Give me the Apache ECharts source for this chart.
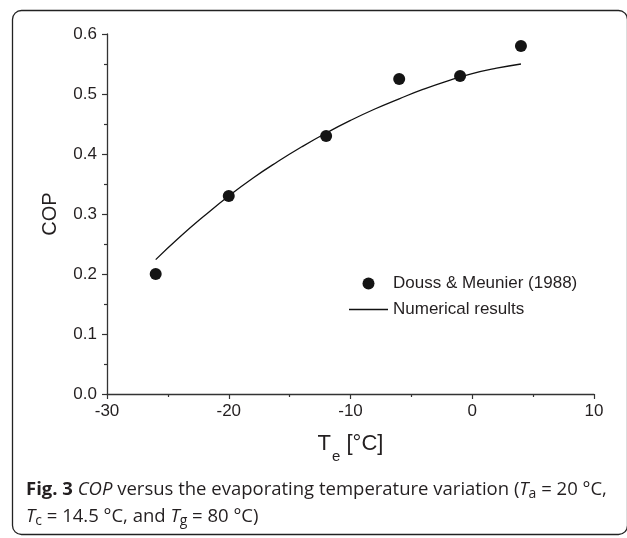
<!DOCTYPE html>
<html>
<head>
<meta charset="utf-8">
<script src="https://cdn.jsdelivr.net/npm/echarts@6/dist/echarts.min.js"></script>
<style>
html, body { margin: 0; padding: 0; background: #fff; }
#main { width: 627px; height: 538px; }
</style>
</head>
<body>
<div id="main"></div>
<script>
// 实验数据 (Douss & Meunier 1988)
var expTemp = [-26, -20, -12, -6, -1, 4];
var expCop = [0.2, 0.33, 0.43, 0.525, 0.53, 0.58];
// 数值计算结果
var numTemp = [-26, -24, -22, -20, -18, -16, -14, -12, -10, -8, -6, -4, -2, 0, 2, 4];
var numCop = [0.224, 0.262, 0.297, 0.330, 0.360, 0.387, 0.412, 0.435, 0.456, 0.475, 0.492, 0.508, 0.522, 0.534, 0.543, 0.550];
// 刻度
var xTicks = [-30, -20, -10, 0, 10];
var yTicks = [0.0, 0.1, 0.2, 0.3, 0.4, 0.5, 0.6];
var seriesNames = ['Douss & Meunier (1988)', 'Numerical results'];

var fam = '"Liberation Sans", Arial, sans-serif';
var capFont = '"Open Sans", sans-serif';
var ink = '#231f20';

var expData = [];
for (var i = 0; i < expTemp.length; i++) {
	expData.push([expTemp[i], expCop[i]]);
}
var numData = [];
for (var j = 0; j < numTemp.length; j++) {
	numData.push([numTemp[j], numCop[j]]);
}

var chart = echarts.init(document.getElementById('main'));

function axisBase() {
	return {
		axisLine: { show: true, onZero: false, lineStyle: { color: '#333', width: 1.3 } },
		axisTick: { show: true, inside: false, length: 5, lineStyle: { color: '#333', width: 1.2 } },
		minorTick: { show: true, splitNumber: 2, length: 3, lineStyle: { color: '#333', width: 1.2 } },
		splitLine: { show: false }
	};
}

var xAxis = axisBase();
xAxis.type = 'value';
xAxis.min = xTicks[0];
xAxis.max = xTicks[xTicks.length - 1];
xAxis.interval = xTicks[1] - xTicks[0];
xAxis.name = '{t|T}{s|e}{t| [°C]}';
xAxis.nameLocation = 'middle';
xAxis.nameGap = 36;
xAxis.nameTextStyle = {
	rich: {
		t: { fontFamily: fam, fontSize: 22, color: ink, lineHeight: 22 },
		s: { fontFamily: fam, fontSize: 15, color: ink, lineHeight: 10, padding: [24, 0, 0, 1] }
	}
};
xAxis.axisLabel = { margin: 9, fontFamily: fam, fontSize: 17, color: ink };

var yAxis = axisBase();
yAxis.type = 'value';
yAxis.min = yTicks[0];
yAxis.max = yTicks[yTicks.length - 1];
yAxis.interval = 0.1;
yAxis.name = 'COP';
yAxis.nameLocation = 'middle';
yAxis.nameGap = 47;
yAxis.nameTextStyle = { fontFamily: fam, fontSize: 20, color: ink };
yAxis.axisLabel = {
	margin: 10, fontFamily: fam, fontSize: 17, color: ink,
	formatter: function(v) { return v.toFixed(1); }
};

var option = {
	backgroundColor: '#fff',
	animation: false,
	grid: { left: 107, right: 33, top: 34, bottom: 144, containLabel: false },
	legend: {
		orient: 'vertical',
		left: 349,
		top: 275,
		padding: 0,
		itemWidth: 39,
		itemHeight: 12,
		itemGap: 9,
		symbolKeepAspect: true,
		data: [
			{ name: seriesNames[0], icon: 'circle' },
			{ name: seriesNames[1], icon: 'path://M0,0 L300,0 L300,10 L0,10 Z' }
		],
		textStyle: { fontFamily: fam, fontSize: 17, color: ink }
	},
	xAxis: xAxis,
	yAxis: yAxis,
	series: [{
		name: seriesNames[0],
		type: 'scatter',
		symbol: 'circle',
		symbolSize: 12,
		itemStyle: { color: '#141414', opacity: 1 },
		z: 3,
		data: expData
	}, {
		name: seriesNames[1],
		type: 'line',
		symbol: 'none',
		smooth: true,
		lineStyle: { color: '#111', width: 1.3 },
		itemStyle: { color: '#111' },
		data: numData
	}],
	graphic: [{
		type: 'rect',
		left: 10,
		top: 8,
		shape: { width: 615, height: 524, r: 9 },
		style: { fill: 'none', stroke: '#222', lineWidth: 1.3 },
		silent: true
	}, {
		type: 'text',
		left: 26,
		top: 476,
		style: {
			text: '{b|Fig. 3} {i|COP}{n| versus the evaporating temperature variation (}{i|T}{s|a}{n| = 20 °C,}\n' +
				'{i|T}{s|c}{n| = 14.5 °C, and }{i|T}{s|g}{n| = 80 °C)}',
			fill: ink,
			font: '18.5px ' + capFont,
			lineHeight: 27,
			rich: {
				b: { font: 'bold 18.5px ' + capFont, fill: ink, lineHeight: 27 },
				i: { font: 'italic 18.5px ' + capFont, fill: ink, lineHeight: 27 },
				n: { font: '18.5px ' + capFont, fill: ink, lineHeight: 27 },
				s: { font: '14px ' + capFont, fill: ink, lineHeight: 10, padding: [9, 0, 0, 0] }
			}
		}
	}]
};
chart.setOption(option);
</script>
</body>
</html>
